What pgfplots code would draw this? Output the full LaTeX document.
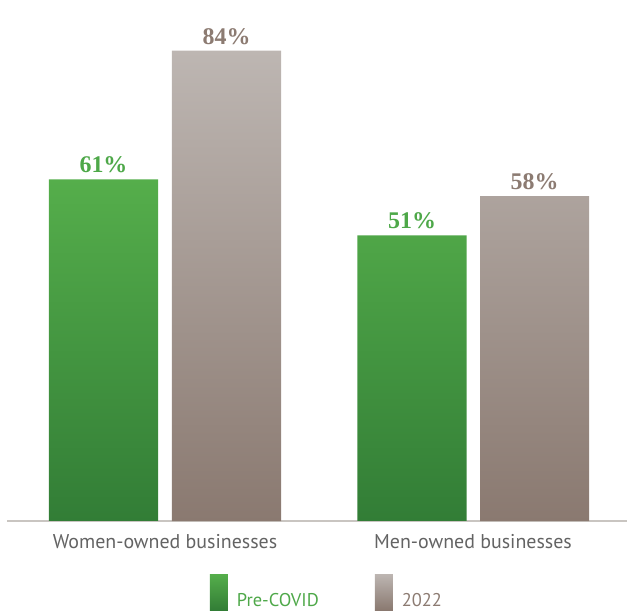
\documentclass[border=0pt]{standalone}
\usepackage{pgfplots}
\pgfplotsset{compat=1.18}
\usepackage{fontspec}
\setmainfont{PT Sans}
\newfontfamily\valfont{Liberation Serif}
\definecolor{gtop}{HTML}{55AE4B}
\definecolor{gbot}{HTML}{327D36}
\definecolor{btop}{HTML}{BDB6B2}
\definecolor{bbot}{HTML}{8A7970}
\definecolor{gtext}{HTML}{4EA849}
\definecolor{btext}{HTML}{8C7B72}
\definecolor{axisgray}{HTML}{C9C5C1}
\definecolor{labgray}{HTML}{636363}
\begin{document}
\begin{tikzpicture}
\useasboundingbox (0,0) rectangle (627bp,611bp);
\begin{axis}[
  at={(7bp,90bp)}, anchor=south west,
  scale only axis, width=620bp, height=504bp,
  xmin=0, xmax=620, ymin=0, ymax=90,
  axis x line=bottom, axis y line=none,
  axis line style={-, draw=axisgray, line width=2bp},
  xtick={158,466},
  xticklabels={Women-owned businesses, Men-owned businesses},
  xtick style={draw=none},
  xticklabel style={font=\fontsize{20}{24}\selectfont, text=labgray, yshift=-6bp},
  ytick=\empty,
  clip=false,
  ybar, bar width=109bp, bar shift=0pt,
  nodes near coords={\pgfmathprintnumber[assume math mode=true]{\pgfplotspointmeta}\%},
  nodes near coords style={font=\valfont\bfseries\fontsize{24}{24}\selectfont, anchor=south, inner sep=0pt, yshift=6bp},
  legend columns=2,
  legend style={draw=none, fill=none, at={(axis description cs:0.516,-0.105)}, anchor=north,
    font=\fontsize{18.5}{22}\selectfont, inner sep=0pt,
    /tikz/every odd column/.append style={column sep=7bp},
    /tikz/every even column/.append style={column sep=54bp}},
  legend image code/.code={\fill[#1] (0bp,-9bp) rectangle (18bp,27bp);},
]
\addplot[draw=none, top color=gtop, bottom color=gbot, shading=axis,
  every node near coord/.append style={text=gtext}]
  coordinates {(96.5,61) (405,51)};
\addlegendentry{\textcolor{gtext}{Pre-COVID}}
\addplot[draw=none, top color=btop, bottom color=bbot, shading=axis,
  every node near coord/.append style={text=btext}]
  coordinates {(219.5,84) (527.5,58)};
\addlegendentry{\textcolor{btext}{2022}}
\end{axis}
\end{tikzpicture}
\end{document}
